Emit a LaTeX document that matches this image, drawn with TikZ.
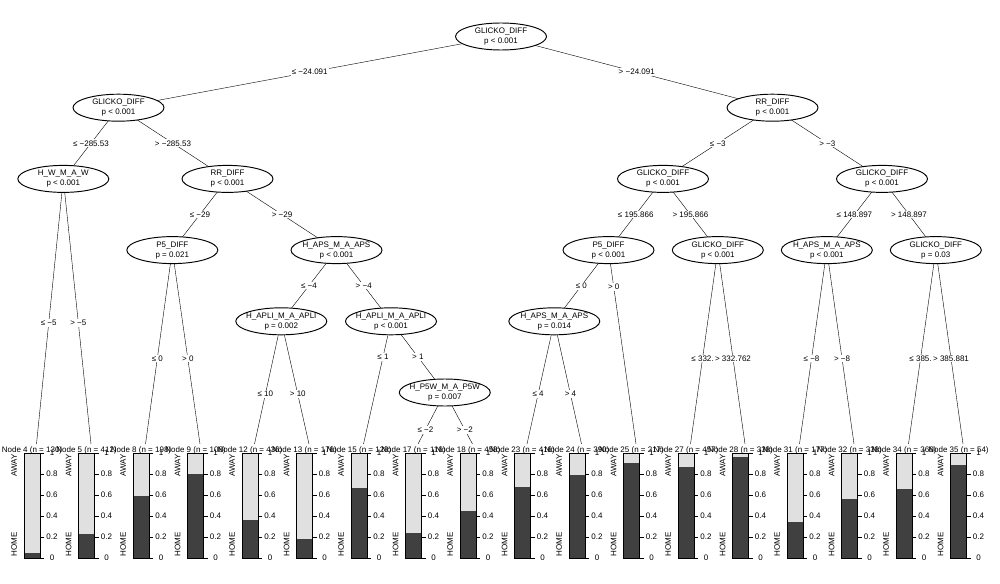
\documentclass[tikz,border=0pt]{standalone}
\usepackage{fontspec}
\setmainfont{Liberation Sans}
\usetikzlibrary{shapes.geometric,backgrounds}
\definecolor{homegray}{RGB}{64,64,64}
\definecolor{awaygray}{RGB}{224,224,224}
\begin{document}
\begin{tikzpicture}[x=1pt,y=-1pt,line width=.95pt,font=\fontsize{8}{10}\selectfont,
 split/.style={ellipse,draw,fill=white,align=center,minimum width=91pt,minimum height=27pt,inner xsep=-5pt,inner ysep=0pt},
 elab/.style={fill=white,inner sep=1pt,pos=.5},
 leaflab/.style={inner sep=0pt},
 tick/.style={inner sep=0pt},
 side/.style={rotate=90,inner sep=1pt},
 homebar/.style={fill=homegray},awaybar/.style={fill=awaygray}]
\useasboundingbox (0,0) rectangle (1000,583);
\def\leaf#1#2#3#4{\coordinate (t#1) at (36.5+54.5*#2,444);\node[leaflab] (l#1) at (32+54.5*#2,450) {Node #1 (n = #3)};\fill[awaybar] (24+54.5*#2,453) rectangle (40+54.5*#2,558);\fill[homebar] (24+54.5*#2,558) rectangle (40+54.5*#2,558-105*#4);\draw (24+54.5*#2,453) rectangle (40+54.5*#2,558);\foreach \t [count=\j] in {0,0.2,0.4,0.6,0.8,1}{\draw (40+54.5*#2,558-105*\t) -- ++(4,0);\node[tick] (k#1-\j) at (52+54.5*#2,558-105*\t) {\t};}\node[side,anchor=east] (a#1) at (14+54.5*#2,453) {AWAY};\node[side,anchor=west] (h#1) at (14+54.5*#2,558) {HOME};}
\node[split] (n1) at (501,36.5) {GLICKO\_DIFF\\p < 0.001};
\node[split] (n2) at (118.5,107.7) {GLICKO\_DIFF\\p < 0.001};
\node[split] (n3) at (63.3,178.9) {H\_W\_M\_A\_W\\p < 0.001};
\node[split] (n6) at (227.5,178.9) {RR\_DIFF\\p < 0.001};
\node[split] (n7) at (172.3,250.1) {P5\_DIFF\\p = 0.021};
\node[split] (n10) at (336.5,250.1) {H\_APS\_M\_A\_APS\\p < 0.001};
\node[split] (n11) at (281.3,321.3) {H\_APLI\_M\_A\_APLI\\p = 0.002};
\node[split] (n14) at (391,321.3) {H\_APLI\_M\_A\_APLI\\p < 0.001};
\node[split] (n16) at (444.8,392.5) {H\_P5W\_M\_A\_P5W\\p = 0.007};
\node[split] (n19) at (772.5,107.7) {RR\_DIFF\\p < 0.001};
\node[split] (n20) at (663,178.9) {GLICKO\_DIFF\\p < 0.001};
\node[split] (n21) at (608.5,250.1) {P5\_DIFF\\p < 0.001};
\node[split] (n22) at (554.3,321.3) {H\_APS\_M\_A\_APS\\p = 0.014};
\node[split] (n26) at (717.8,250.1) {GLICKO\_DIFF\\p < 0.001};
\node[split] (n29) at (882,178.9) {GLICKO\_DIFF\\p < 0.001};
\node[split] (n30) at (826.8,250.1) {H\_APS\_M\_A\_APS\\p < 0.001};
\node[split] (n33) at (935.8,250.1) {GLICKO\_DIFF\\p = 0.03};
\leaf{4}{0}{130}{.048}
\leaf{5}{1}{412}{.229}
\leaf{8}{2}{198}{.594}
\leaf{9}{3}{108}{.803}
\leaf{12}{4}{436}{.365}
\leaf{13}{5}{176}{.184}
\leaf{15}{6}{128}{.667}
\leaf{17}{7}{116}{.238}
\leaf{18}{8}{458}{.451}
\leaf{23}{9}{416}{.676}
\leaf{24}{10}{390}{.794}
\leaf{25}{11}{217}{.908}
\leaf{27}{12}{457}{.870}
\leaf{28}{13}{338}{.960}
\leaf{31}{14}{177}{.346}
\leaf{32}{15}{338}{.565}
\leaf{34}{16}{366}{.660}
\leaf{35}{17}{54}{.883}
\begin{pgfonlayer}{background}
\draw (n1.center) -- (n2.center) node[elab] (e2) {≤ −24.091};
\draw (n1.center) -- (n19.center) node[elab] (e19) {> −24.091};
\draw (n2.center) -- (n3.center) node[elab] (e3) {≤ −285.53};
\draw (n2.center) -- (n6.center) node[elab] (e6) {> −285.53};
\draw (n3.center) -- (t4) node[elab,pos=.543] (e4) {≤ −5};
\draw (n3.center) -- (t5) node[elab,pos=.543] (e5) {> −5};
\draw (n6.center) -- (n7.center) node[elab] (e7) {≤ −29};
\draw (n6.center) -- (n10.center) node[elab] (e10) {> −29};
\draw (n7.center) -- (t8) node[elab,pos=.559] (e8) {≤ 0};
\draw (n7.center) -- (t9) node[elab,pos=.559] (e9) {> 0};
\draw (n10.center) -- (n11.center) node[elab] (e11) {≤ −4};
\draw (n10.center) -- (n14.center) node[elab] (e14) {> −4};
\draw (n11.center) -- (t12) node[elab,pos=.594] (e12) {≤ 10};
\draw (n11.center) -- (t13) node[elab,pos=.594] (e13) {> 10};
\draw (n14.center) -- (t15) node[elab,pos=.291] (e15) {≤ 1};
\draw (n14.center) -- (n16.center) node[elab] (e16) {> 1};
\draw (n16.center) -- (t17) node[elab,pos=.723] (e17) {≤ −2};
\draw (n16.center) -- (t18) node[elab,pos=.723] (e18) {> −2};
\draw (n19.center) -- (n20.center) node[elab] (e20) {≤ −3};
\draw (n19.center) -- (n29.center) node[elab] (e29) {> −3};
\draw (n20.center) -- (n21.center) node[elab] (e21) {≤ 195.866};
\draw (n20.center) -- (n26.center) node[elab] (e26) {> 195.866};
\draw (n21.center) -- (n22.center) node[elab] (e22) {≤ 0};
\draw (n21.center) -- (t25) node[elab,pos=.189] (e25) {> 0};
\draw (n22.center) -- (t23) node[elab,pos=.594] (e23) {≤ 4};
\draw (n22.center) -- (t24) node[elab,pos=.594] (e24) {> 4};
\draw (n26.center) -- (t27) node[elab,pos=.559] (e27) {≤ 332.};
\draw (n26.center) -- (t28) node[elab,pos=.559] (e28) {> 332.762};
\draw (n29.center) -- (n30.center) node[elab] (e30) {≤ 148.897};
\draw (n29.center) -- (n33.center) node[elab] (e33) {> 148.897};
\draw (n30.center) -- (t31) node[elab,pos=.559] (e31) {≤ −8};
\draw (n30.center) -- (t32) node[elab,pos=.559] (e32) {> −8};
\draw (n33.center) -- (t34) node[elab,pos=.559] (e34) {≤ 385.};
\draw (n33.center) -- (t35) node[elab,pos=.559] (e35) {> 385.881};
\end{pgfonlayer}
\end{tikzpicture}
\end{document}
